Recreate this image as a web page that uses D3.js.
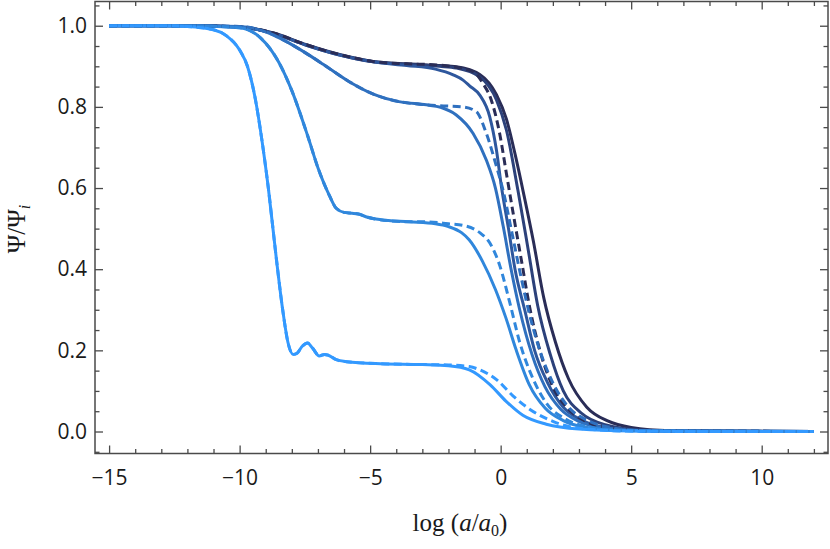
<!DOCTYPE html>
<html>
<head>
<meta charset="utf-8">
<script src="https://cdn.jsdelivr.net/npm/d3@7"></script>
<style>
  body { margin: 0; background: #fff; }
  .tick text { font-family: "Open Sans", sans-serif; font-size: 21px; fill: #1a1a1a; }
</style>
</head>
<body>
<svg id="chart" width="830" height="549"></svg>
<script>
// data: [log(a/a0), Psi/Psi_i]
const c1Solid = [[-15,1.0],[-13,1.0],[-12,0.998],[-11,0.99],[-10.5,0.975],[-10,0.94],[-9.7,0.9],[-9.4,0.82],[-9.15,0.72],[-8.9,0.6],[-8.6,0.43],[-8.35,0.3],[-8.15,0.22],[-7.95,0.19],[-7.8,0.193],[-7.6,0.21],[-7.4,0.218],[-7.2,0.205],[-6.95,0.186],[-6.75,0.19],[-6.6,0.188],[-6.3,0.177],[-5.9,0.172],[-4.6,0.167],[-3,0.165],[-2,0.162],[-1.2,0.152],[-0.4,0.115],[0.2,0.075],[0.85,0.04],[1.75,0.018],[3,0.006],[5,0.001],[8,0],[12,0]];
const c1Dashed = [[-3,0.165],[-2,0.164],[-1.2,0.16],[-0.8,0.152],[-0.16,0.128],[0.47,0.088],[1.11,0.055],[2,0.025],[3,0.008],[5,0.001],[8,0],[12,0]];

const c2Solid = [[-15,1.0],[-12,1.0],[-10,0.995],[-9.2,0.97],[-8.5,0.91],[-8,0.84],[-7.4,0.73],[-7,0.65],[-6.55,0.58],[-6.3,0.55],[-6.0,0.54],[-5.7,0.538],[-5.45,0.536],[-5.1,0.528],[-4.6,0.522],[-3.5,0.517],[-2.5,0.512],[-2,0.505],[-1.5,0.49],[-1.2,0.472],[-0.7,0.42],[-0.2,0.35],[0.2,0.28],[0.6,0.2],[1.1,0.115],[1.7,0.058],[2.4,0.027],[3.2,0.011],[4.3,0.004],[6,0.001],[12,0]];
const c2Dashed = [[-3,0.517],[-2,0.512],[-1.44,0.508],[-0.8,0.49],[-0.42,0.465],[-0.04,0.41],[0.34,0.32],[0.73,0.22],[1.24,0.13],[1.75,0.07],[2.5,0.03],[3.5,0.01],[5,0.002],[12,0]];

const c3Solid = [[-15,1.0],[-12,1.0],[-10,0.998],[-9,0.985],[-8.1,0.957],[-7.4,0.93],[-6.8,0.905],[-5.8,0.862],[-4.9,0.832],[-3.9,0.813],[-2.85,0.805],[-2.3,0.799],[-1.7,0.78],[-1.06,0.735],[-0.55,0.669],[-0.2,0.6],[0.1,0.505],[0.4,0.4],[0.73,0.30],[1.2,0.19],[1.7,0.11],[2.3,0.055],[3,0.025],[4,0.009],[5.5,0.002],[12,0]];
const c3Dashed = [[-3,0.806],[-2.34,0.803],[-1.44,0.8],[-0.93,0.788],[-0.55,0.735],[-0.16,0.653],[0.09,0.595],[0.4,0.5],[0.75,0.39],[1.1,0.29],[1.5,0.2],[2,0.12],[2.6,0.06],[3.3,0.028],[4.2,0.01],[5.5,0.002],[12,0]];

const c4Solid = [[-15,1.0],[-12,1.0],[-10,0.997],[-8.7,0.981],[-7.44,0.952],[-6.17,0.928],[-4.89,0.911],[-3.6,0.902],[-2.5,0.893],[-1.82,0.879],[-1.44,0.866],[-1.19,0.852],[-0.8,0.829],[-0.42,0.776],[-0.16,0.693],[0.03,0.603],[0.3,0.5],[0.55,0.4],[0.92,0.30],[1.3,0.2],[1.8,0.12],[2.4,0.06],[3.1,0.028],[4,0.01],[5.5,0.002],[12,0]];

const c5Solid = [[-15,1.0],[-12,1.0],[-10,0.997],[-8.7,0.981],[-7.44,0.952],[-6.17,0.928],[-4.89,0.911],[-3.61,0.905],[-2.34,0.9],[-1.7,0.896],[-0.8,0.874],[-0.16,0.817],[0.22,0.743],[0.66,0.595],[1.05,0.45],[1.42,0.31],[1.9,0.19],[2.4,0.1],[3.1,0.045],[4,0.017],[5.5,0.003],[7,0.001],[12,0]];

const c6Solid = [[-15,1.0],[-12,1.0],[-10,0.997],[-8.7,0.982],[-7.44,0.953],[-6.17,0.929],[-4.89,0.912],[-3.61,0.906],[-2.34,0.902],[-1.7,0.899],[-0.8,0.88],[-0.16,0.83],[0.22,0.77],[0.6,0.67],[0.9,0.58],[1.25,0.47],[1.65,0.33],[2.1,0.22],[2.6,0.13],[3.3,0.06],[4.1,0.026],[5,0.01],[6.5,0.002],[8,0.001],[12,0]];
const c6Dashed = [[-3,0.905],[-2.34,0.903],[-1.06,0.887],[-0.68,0.858],[-0.36,0.817],[-0.04,0.735],[0.22,0.636],[0.5,0.53],[0.8,0.42],[1.1,0.31],[1.5,0.2],[2,0.11],[2.6,0.055],[3.3,0.024],[4.3,0.008],[5.5,0.002],[12,0]];

const colors = ["#3399ff", "#3087dc", "#2f70bf", "#2e579d", "#2c417a", "#2a2d57"];
const xTicks = [-15, -10, -5, 0, 5, 10];
const yTicks = [0, 0.2, 0.4, 0.6, 0.8, 1.0];

// solid curves, plus dashed tails that branch off the matching solid curve
const solids = [c6Solid, c5Solid, c4Solid, c3Solid, c2Solid, c1Solid];
const solidColors = [colors[5], colors[4], colors[3], colors[2], colors[1], colors[0]];
const dashedTails = [c6Dashed, c3Dashed, c2Dashed, c1Dashed];
const dashedBase = [c6Solid, c3Solid, c2Solid, c1Solid];
const dashedColors = [colors[5], colors[2], colors[1], colors[0]];

const svg = d3.select("#chart");
const margin = { left: 95, right: 2, top: 1.5, bottom: 95.5 };
const W = 830, H = 549;

const x = d3.scaleLinear().domain([-15.54, 12.54]).range([margin.left, W - margin.right]);
const y = d3.scaleLinear().domain([-0.0542, 1.0597]).range([H - margin.bottom, margin.top]);

const line = d3.line()
  .x(d => x(d[0]))
  .y(d => y(d[1]))
  .curve(d3.curveMonotoneX);

const plot = svg.append("g");
plot.append("clipPath").attr("id", "clip")
  .append("rect")
  .attr("x", margin.left).attr("y", margin.top)
  .attr("width", W - margin.left - margin.right)
  .attr("height", H - margin.top - margin.bottom);

const curves = plot.append("g").attr("clip-path", "url(#clip)");

solids.forEach((s, i) => {
  curves.append("path")
    .datum(s)
    .attr("d", line)
    .attr("fill", "none")
    .attr("stroke", solidColors[i])
    .attr("stroke-width", 3)
    .attr("stroke-linejoin", "round");
});

dashedTails.forEach((t, i) => {
  const pts = dashedBase[i].filter(d => d[0] < t[0][0]).concat(t);
  curves.append("path")
    .datum(pts)
    .attr("d", line)
    .attr("fill", "none")
    .attr("stroke", dashedColors[i])
    .attr("stroke-width", 3)
    .attr("stroke-dasharray", "8,4.5");
});

// frame
const frameColor = "#4a4a4a";
svg.append("rect")
  .attr("x", margin.left).attr("y", margin.top)
  .attr("width", W - margin.left - margin.right)
  .attr("height", H - margin.top - margin.bottom)
  .attr("fill", "none")
  .attr("stroke", frameColor)
  .attr("stroke-width", 1.5);

const xMinor = d3.range(-15, 13, 1).filter(v => !xTicks.includes(v));
const yMinor = d3.range(-0.05, 1.06, 0.05).map(v => +v.toFixed(2)).filter(v => !yTicks.includes(v));
const fmtX = d3.format("d");
const fmtY = d3.format(".1f");

function styleAxis(g) {
  g.select(".domain").remove();
  g.selectAll(".tick line").attr("stroke", frameColor).attr("stroke-width", 1.3);
}

// bottom
svg.append("g").attr("transform", `translate(0,${H - margin.bottom})`)
  .call(d3.axisBottom(x).tickValues(xTicks).tickSize(-8).tickPadding(17).tickFormat(fmtX))
  .call(styleAxis);
svg.append("g").attr("transform", `translate(0,${H - margin.bottom})`)
  .call(d3.axisBottom(x).tickValues(xMinor).tickSize(-4.5).tickFormat(""))
  .call(styleAxis);
// top
svg.append("g").attr("transform", `translate(0,${margin.top})`)
  .call(d3.axisTop(x).tickValues(xTicks).tickSize(-8).tickFormat(""))
  .call(styleAxis);
svg.append("g").attr("transform", `translate(0,${margin.top})`)
  .call(d3.axisTop(x).tickValues(xMinor).tickSize(-4.5).tickFormat(""))
  .call(styleAxis);
// left
svg.append("g").attr("transform", `translate(${margin.left},0)`)
  .call(d3.axisLeft(y).tickValues(yTicks).tickSize(-8).tickPadding(8).tickFormat(fmtY))
  .call(styleAxis);
svg.append("g").attr("transform", `translate(${margin.left},0)`)
  .call(d3.axisLeft(y).tickValues(yMinor).tickSize(-4.5).tickFormat(""))
  .call(styleAxis);
// right
svg.append("g").attr("transform", `translate(${W - margin.right},0)`)
  .call(d3.axisRight(y).tickValues(yTicks).tickSize(-8).tickFormat(""))
  .call(styleAxis);
svg.append("g").attr("transform", `translate(${W - margin.right},0)`)
  .call(d3.axisRight(y).tickValues(yMinor).tickSize(-4.5).tickFormat(""))
  .call(styleAxis);

// axis labels
const serif = "'Liberation Serif', 'DejaVu Serif', serif";
const xLabel = svg.append("text")
  .attr("x", 460).attr("y", 531)
  .attr("text-anchor", "middle")
  .style("font-family", serif).style("font-size", "25px").attr("fill", "#1a1a1a");
xLabel.append("tspan").text("log (");
xLabel.append("tspan").style("font-style", "italic").text("a");
xLabel.append("tspan").text("/");
xLabel.append("tspan").style("font-style", "italic").text("a");
xLabel.append("tspan").attr("dy", 5).style("font-size", "16px").text("0");
xLabel.append("tspan").attr("dy", -5).text(")");

const yLabel = svg.append("text")
  .attr("transform", "translate(25,229) rotate(-90)")
  .attr("text-anchor", "middle")
  .style("font-family", serif).style("font-size", "25px").attr("fill", "#1a1a1a");
yLabel.append("tspan").text("Ψ/Ψ");
yLabel.append("tspan").attr("dy", 5).style("font-size", "16px").style("font-style", "italic").text("i");
</script>
</body>
</html>
